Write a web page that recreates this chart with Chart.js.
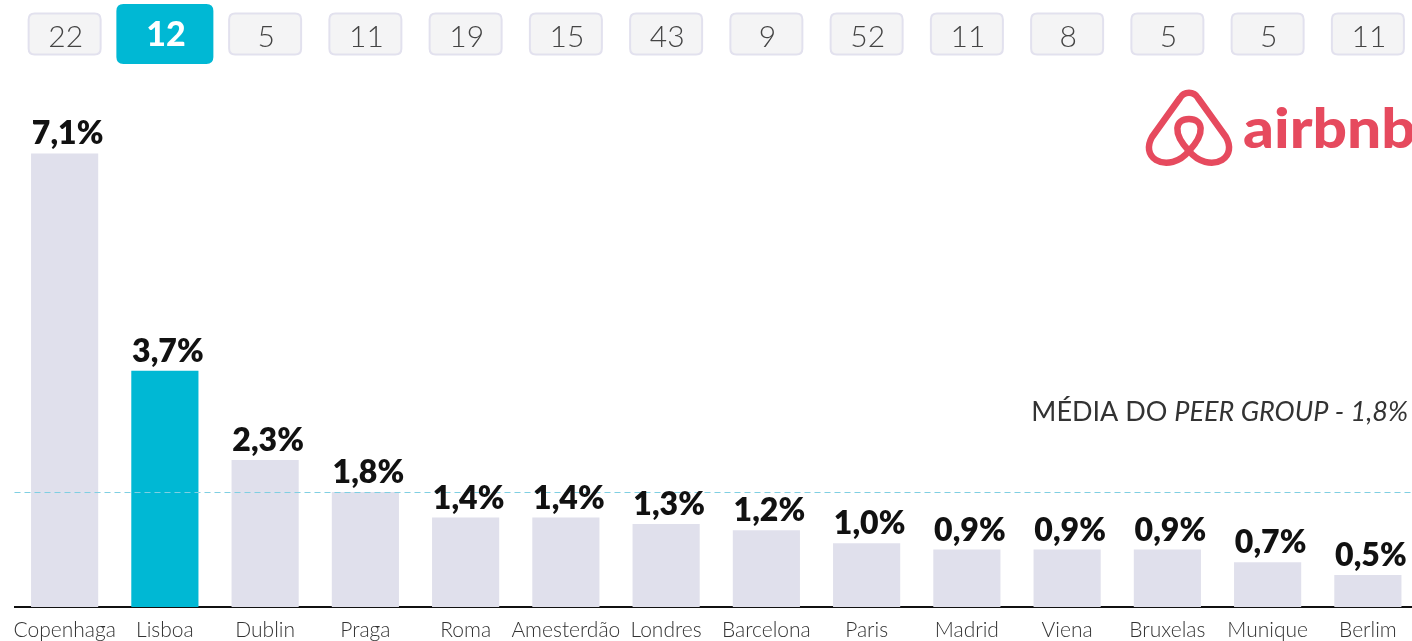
<!DOCTYPE html>
<html>
<head>
<meta charset="utf-8">
<script src="https://cdn.jsdelivr.net/npm/chart.js@4.4.1/dist/chart.umd.min.js"></script>
<style>
  html, body { margin: 0; padding: 0; background: #ffffff; overflow: hidden; }
  #wrap { position: relative; width: 1412px; height: 641px; overflow: hidden; }
  canvas { display: block; }
</style>
</head>
<body>
<div id="wrap"><canvas id="chart" width="1418" height="641"></canvas></div>
<script>
// Airbnb share by city, with the count shown in the box above each city
const categories = ['Copenhaga', 'Lisboa', 'Dublin', 'Praga', 'Roma', 'Amesterdão', 'Londres',
  'Barcelona', 'Paris', 'Madrid', 'Viena', 'Bruxelas', 'Munique', 'Berlim'];
const shareValues = [7.1, 3.7, 2.3, 1.8, 1.4, 1.4, 1.3, 1.2, 1.0, 0.9, 0.9, 0.9, 0.7, 0.5];
const boxValues = [22, 12, 5, 11, 19, 15, 43, 9, 52, 11, 8, 5, 5, 11];
const peerAverage = 1.8;
const highlightCity = 'Lisboa';

const BAR_GREY = '#e0e0ec';
const HIGHLIGHT = '#00b8d4';

const fmt = v => v.toFixed(1).replace('.', ',') + '%';

function roundRect(ctx, x, y, w, h, r) {
  ctx.beginPath();
  ctx.moveTo(x + r, y);
  ctx.lineTo(x + w - r, y);
  ctx.quadraticCurveTo(x + w, y, x + w, y + r);
  ctx.lineTo(x + w, y + h - r);
  ctx.quadraticCurveTo(x + w, y + h, x + w - r, y + h);
  ctx.lineTo(x + r, y + h);
  ctx.quadraticCurveTo(x, y + h, x, y + h - r);
  ctx.lineTo(x, y + r);
  ctx.quadraticCurveTo(x, y, x + r, y);
  ctx.closePath();
}

// Boxes with the count above each category
const topBoxes = {
  id: 'topBoxes',
  afterDraw(chart) {
    const ctx = chart.ctx;
    const xs = chart.scales.x;
    ctx.save();
    boxValues.forEach((v, i) => {
      const cx = xs.getPixelForValue(i);
      const hl = categories[i] === highlightCity;
      if (hl) {
        const w = 97, h = 60;
        roundRect(ctx, cx - w / 2, 4, w, h, 7);
        ctx.fillStyle = HIGHLIGHT;
        ctx.fill();
        ctx.fillStyle = '#ffffff';
        ctx.font = '900 34px Lato';
      } else {
        const w = 72, h = 41;
        roundRect(ctx, cx - w / 2, 13.5, w, h, 6);
        ctx.fillStyle = '#f4f4f5';
        ctx.fill();
        ctx.lineWidth = 2;
        ctx.strokeStyle = '#e2e1ee';
        ctx.stroke();
        ctx.fillStyle = '#444444';
        ctx.font = '300 30px Lato';
      }
      ctx.textAlign = 'center';
      ctx.textBaseline = 'alphabetic';
      ctx.fillText(String(v), cx + 1, hl ? 46 : 47);
    });
    ctx.restore();
  }
};

// Percentage labels over bars and the peer-group average line
const barLabels = {
  id: 'barLabels',
  afterDatasetsDraw(chart) {
    const ctx = chart.ctx;
    const area = chart.chartArea;
    const ys = chart.scales.y;
    const yAvg = ys.getPixelForValue(peerAverage);
    ctx.save();
    ctx.strokeStyle = '#7fcfe2';
    ctx.lineWidth = 1.2;
    ctx.setLineDash([6, 4]);
    ctx.beginPath();
    ctx.moveTo(area.left, Math.round(yAvg) + 0.5);
    ctx.lineTo(area.right, Math.round(yAvg) + 0.5);
    ctx.stroke();
    ctx.setLineDash([]);

    const meta = chart.getDatasetMeta(0);
    ctx.fillStyle = '#111111';
    ctx.font = '800 32px Lato';
    ctx.textAlign = 'center';
    ctx.textBaseline = 'alphabetic';
    meta.data.forEach((bar, i) => {
      ctx.fillText(fmt(shareValues[i]), bar.x + 3, bar.y - 9);
    });

    // average caption, right aligned
    const italicPart = 'PEER GROUP - ' + fmt(peerAverage);
    const plainPart = 'MÉDIA DO ';
    ctx.fillStyle = '#333333';
    ctx.textAlign = 'right';
    ctx.font = 'italic 400 27px Lato';
    const right = 1408;
    const baseY = 421;
    ctx.fillText(italicPart, right, baseY);
    const wItalic = ctx.measureText(italicPart).width;
    ctx.font = '400 27px Lato';
    ctx.fillText(plainPart, right - wItalic, baseY);
    ctx.restore();
  }
};

// airbnb logo mark and wordmark
const logo = {
  id: 'logo',
  afterDraw(chart) {
    const ctx = chart.ctx;
    ctx.save();
    ctx.filter = 'blur(0.5px)';
    ctx.strokeStyle = '#e64a5e';
    ctx.fillStyle = '#e64a5e';
    ctx.lineWidth = 6.5;
    ctx.lineJoin = 'round';
    ctx.lineCap = 'round';
    // outer shape
    ctx.beginPath();
    ctx.moveTo(1189, 151);
    ctx.bezierCurveTo(1180, 162, 1166, 166, 1156, 160);
    ctx.bezierCurveTo(1148, 155, 1147, 146, 1152, 137);
    ctx.lineTo(1180, 98);
    ctx.bezierCurveTo(1184, 91, 1194, 91, 1198, 98);
    ctx.lineTo(1226, 137);
    ctx.bezierCurveTo(1231, 146, 1230, 155, 1222, 160);
    ctx.bezierCurveTo(1212, 166, 1198, 162, 1189, 151);
    ctx.stroke();
    // inner loop
    ctx.beginPath();
    ctx.moveTo(1189, 151);
    ctx.bezierCurveTo(1172, 133, 1175, 119, 1189, 119);
    ctx.bezierCurveTo(1203, 119, 1206, 133, 1189, 151);
    ctx.stroke();
    // wordmark, slightly widened
    ctx.translate(1243, 148);
    ctx.scale(1.1, 1);
    ctx.font = '900 55px Lato';
    ctx.textAlign = 'left';
    ctx.textBaseline = 'alphabetic';
    ctx.fillText('airbnb', 0, 0);
    ctx.restore();
  }
};

new Chart(document.getElementById('chart'), {
  type: 'bar',
  data: {
    labels: categories,
    datasets: [{
      data: shareValues,
      backgroundColor: categories.map(c => c === highlightCity ? HIGHLIGHT : BAR_GREY),
      borderWidth: 0,
      barPercentage: 0.67,
      categoryPercentage: 1.0
    }]
  },
  options: {
    responsive: false,
    animation: false,
    devicePixelRatio: 1,
    layout: { padding: { top: 96, left: 14.5, right: 0, bottom: -12 } },
    plugins: { legend: { display: false }, tooltip: { enabled: false } },
    scales: {
      x: {
        grid: { display: false, drawTicks: false },
        border: { display: true, color: '#111111', width: 2 },
        ticks: {
          padding: 10.4,
          color: '#333333',
          font: { family: 'Lato', size: 21, weight: '300', lineHeight: 1.2 },
          maxRotation: 0,
          autoSkip: false
        }
      },
      y: {
        display: false,
        min: 0,
        max: 8
      }
    }
  },
  plugins: [barLabels, topBoxes, logo]
});
</script>
</body>
</html>
